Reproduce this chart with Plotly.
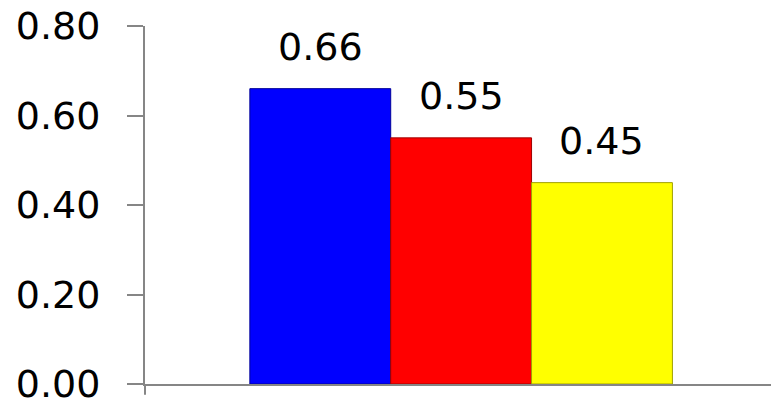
import plotly.graph_objects as go

# values
category = [""]
series_names = ["Series 1", "Series 2", "Series 3"]
series_values = [[0.66], [0.55], [0.45]]
series_colors = ["#0000FF", "#FF0000", "#FFFF00"]
edge_colors = ["#00009A", "#A00000", "#A0A000"]
y_ticks = [0.0, 0.2, 0.4, 0.6, 0.8]

font_family = "DejaVu Sans"
font_size = 38
bargap = 0.325
x_shift = 0.005  # group sits a little right of the plot centre

fig = go.Figure()
for name, vals, col, edge in zip(series_names, series_values, series_colors, edge_colors):
    fig.add_trace(go.Bar(
        x=category, y=vals, name=name,
        marker=dict(color=col, line=dict(color=edge, width=1)),
        showlegend=False,
    ))

fig.update_layout(
    width=771, height=403,
    margin=dict(l=145, r=0, t=26, b=19, autoexpand=False),
    paper_bgcolor="white", plot_bgcolor="white",
    barmode="group", bargap=bargap, bargroupgap=0,
    font=dict(family=font_family, size=font_size, color="black"),
)
fig.update_xaxes(showticklabels=False, showline=True, linecolor="#868686",
                 linewidth=2, ticks="", showgrid=False, zeroline=False,
                 range=[-0.5 - x_shift, 0.5 - x_shift], automargin=False)
fig.update_yaxes(range=[0, 0.8], tickvals=y_ticks,
                 ticktext=["%.2f" % t for t in y_ticks],
                 showline=True, linecolor="#868686", linewidth=2,
                 ticks="outside", ticklen=16, tickwidth=2, tickcolor="#868686",
                 ticklabelstandoff=19, ticklabeloverflow="allow",
                 automargin=False, showgrid=False, zeroline=False,
                 tickfont=dict(family=font_family, size=font_size, color="black"))

# value labels above each bar, centred on the bar within the group
n = len(series_values)
group_w = 1 - bargap
for i, vals in enumerate(series_values):
    xc = 0.5 + x_shift - group_w / 2 + group_w / n * (i + 0.5)
    fig.add_annotation(x=xc, xref="paper", y=vals[0], yref="y",
                       text="%.2f" % vals[0], showarrow=False,
                       xanchor="center", yanchor="bottom", yshift=18,
                       font=dict(family=font_family, size=font_size, color="black"))

# small tick below the origin, as in the reference
fig.add_shape(type="line", xref="paper", yref="paper", x0=0, x1=0, y0=0, y1=-0.03,
              line=dict(color="#868686", width=2))

fig.write_html("out.html", config={"displayModeBar": False},
               post_script="document.body.style.margin='0';")
